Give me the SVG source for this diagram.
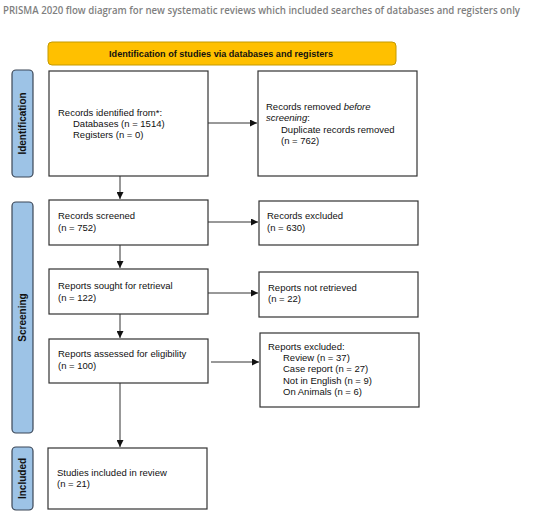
<svg xmlns="http://www.w3.org/2000/svg" width="550" height="514" viewBox="0 0 550 514">
<style>
.title{font-family:"Open Sans","Noto Sans",sans-serif;font-weight:600;font-size:10px;fill:#7f7f7f}
.box{fill:#fff;stroke:#333;stroke-width:1.2}
.side{fill:#9dc3e6;stroke:#3b4656;stroke-width:1.2}
.sidet{font-family:"Liberation Sans",Arial,sans-serif;font-weight:bold;font-size:10px;fill:#111;text-anchor:middle}
.t{font-family:"Liberation Sans",Arial,sans-serif;font-size:9.5px;fill:#111}
.conn{stroke:#333;stroke-width:1;fill:none;marker-end:url(#ah)}
</style>
<defs>
<marker id="ah" viewBox="0 0 10 10" refX="10" refY="5" markerWidth="7" markerHeight="7" markerUnits="userSpaceOnUse" orient="auto">
<path d="M0,0 L10,5 L0,10 z" fill="#111"/>
</marker>
</defs>
<rect width="550" height="514" fill="#fff"/>
<text class="title" x="3" y="14" textLength="517" lengthAdjust="spacingAndGlyphs">PRISMA 2020 flow diagram for new systematic reviews which included searches of databases and registers only</text>

<g id="banner">
<rect x="48" y="42" width="348" height="23" rx="4" fill="#ffc000" stroke="#c49a00" stroke-width="1"/>
<text x="221" y="57" font-family="Liberation Sans,Arial,sans-serif" font-weight="bold" font-size="9.1" text-anchor="middle" fill="#111">Identification of studies via databases and registers</text>
</g>

<g id="side-identification">
<rect class="side" x="12" y="70" width="21" height="107" rx="4"/>
<text class="sidet" transform="translate(26,123.5) rotate(-90)">Identification</text>
</g>
<g id="side-screening">
<rect class="side" x="12" y="202" width="21" height="231" rx="4"/>
<text class="sidet" transform="translate(26,317.5) rotate(-90)">Screening</text>
</g>
<g id="side-included">
<rect class="side" x="12" y="447" width="21" height="63" rx="4"/>
<text class="sidet" transform="translate(26,478.5) rotate(-90)">Included</text>
</g>

<g id="connectors">
<line class="conn" x1="208" y1="123" x2="257" y2="123"/>
<line class="conn" x1="120" y1="176" x2="120" y2="199"/>
<line class="conn" x1="208" y1="222" x2="258" y2="222"/>
<line class="conn" x1="120" y1="245" x2="120" y2="268"/>
<line class="conn" x1="208" y1="293" x2="258" y2="293"/>
<line class="conn" x1="120" y1="314" x2="120" y2="338"/>
<line class="conn" x1="211" y1="362" x2="259" y2="362"/>
<line class="conn" x1="120" y1="383" x2="120" y2="447"/>
</g>

<g id="records-identified">
<rect class="box" x="49" y="71" width="159" height="105"/>
<text class="t" x="58" y="116">Records identified from*:</text>
<text class="t" x="73" y="127">Databases (n = 1514)</text>
<text class="t" x="73" y="138">Registers (n = 0)</text>
</g>
<g id="records-removed">
<rect class="box" x="258" y="71" width="159" height="105"/>
<text class="t" x="266" y="110">Records removed <tspan font-style="italic">before</tspan></text>
<text class="t" x="266" y="121"><tspan font-style="italic">screening</tspan>:</text>
<text class="t" x="281" y="133">Duplicate records removed</text>
<text class="t" x="281" y="144">(n = 762)</text>
</g>
<g id="records-screened">
<rect class="box" x="49" y="200" width="159" height="45"/>
<text class="t" x="58" y="219">Records screened</text>
<text class="t" x="58" y="231">(n = 752)</text>
</g>
<g id="records-excluded">
<rect class="box" x="259" y="201" width="159" height="44"/>
<text class="t" x="267" y="219">Records excluded</text>
<text class="t" x="267" y="231">(n = 630)</text>
</g>
<g id="reports-sought">
<rect class="box" x="49" y="269" width="159" height="45"/>
<text class="t" x="58" y="289">Reports sought for retrieval</text>
<text class="t" x="58" y="301">(n = 122)</text>
</g>
<g id="reports-not-retrieved">
<rect class="box" x="259" y="272" width="159" height="45"/>
<text class="t" x="268" y="291">Reports not retrieved</text>
<text class="t" x="268" y="302">(n = 22)</text>
</g>
<g id="reports-assessed">
<rect class="box" x="49" y="339" width="159" height="44"/>
<text class="t" x="58" y="357">Reports assessed for eligibility</text>
<text class="t" x="58" y="369">(n = 100)</text>
</g>
<g id="reports-excluded">
<rect class="box" x="260" y="333" width="159" height="74"/>
<text class="t" x="268" y="350">Reports excluded:</text>
<text class="t" x="283" y="361">Review (n = 37)</text>
<text class="t" x="283" y="372">Case report (n = 27)</text>
<text class="t" x="283" y="384">Not in English (n = 9)</text>
<text class="t" x="283" y="395">On Animals (n = 6)</text>
</g>
<g id="studies-included">
<rect class="box" x="48" y="448" width="159" height="61"/>
<text class="t" x="57" y="476">Studies included in review</text>
<text class="t" x="57" y="487">(n = 21)</text>
</g>
</svg>
